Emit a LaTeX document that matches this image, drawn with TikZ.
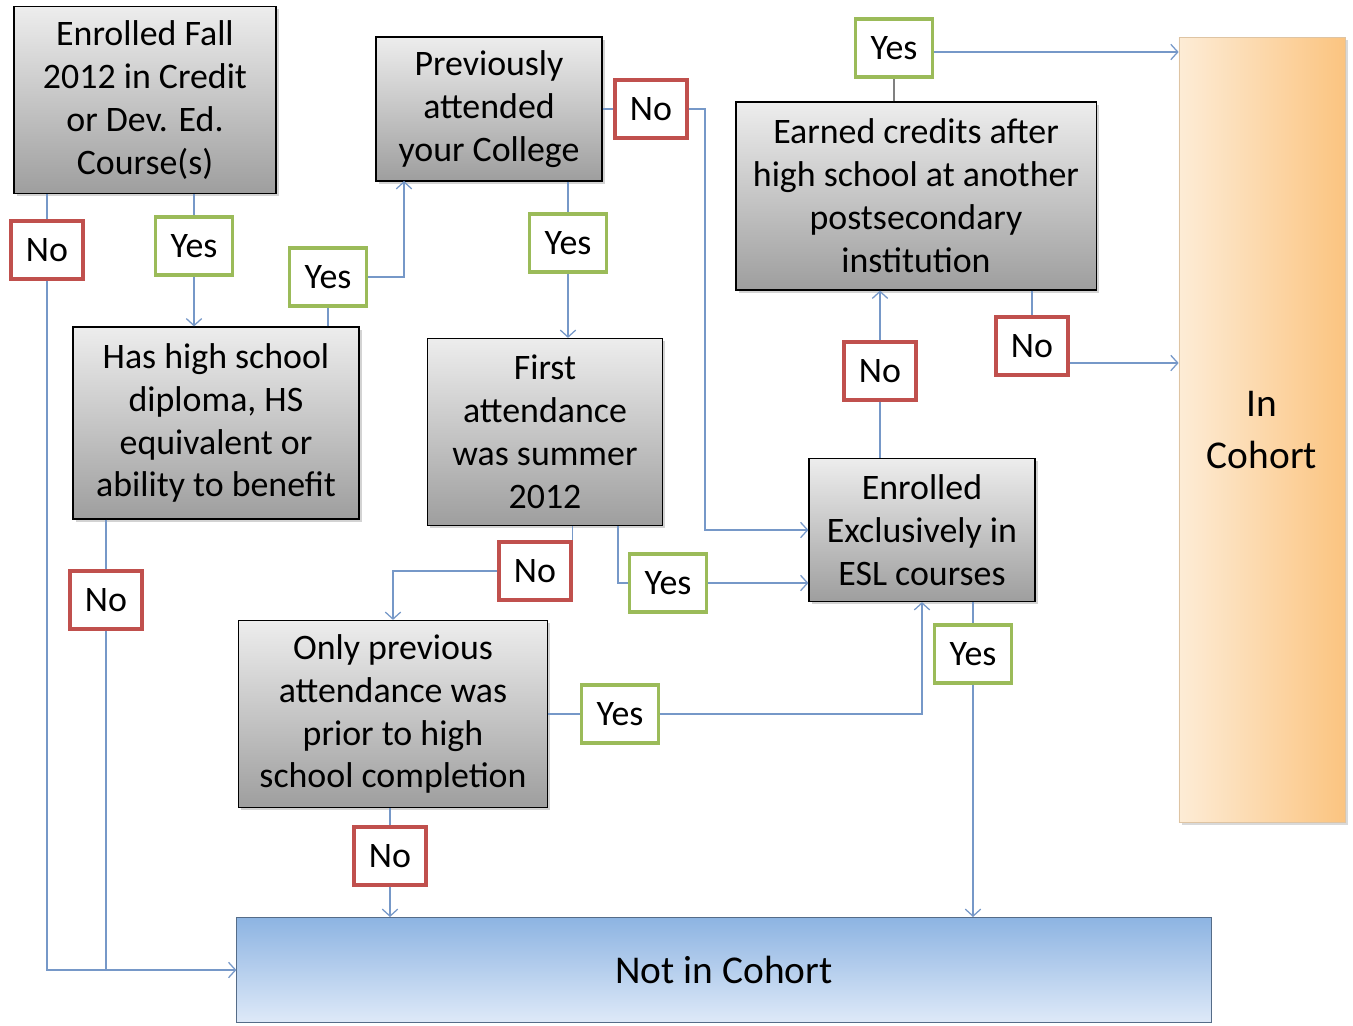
\documentclass[tikz,border=0pt]{standalone}
\usepackage{fontspec}
\setmainfont{Carlito}
\usetikzlibrary{arrows.meta,shadows}

\definecolor{FlowColor}{RGB}{118,152,200}
\definecolor{NoColor}{RGB}{192,80,77}
\definecolor{YesColor}{RGB}{155,187,89}
\definecolor{CohortLight}{RGB}{253,236,214}
\definecolor{CohortDark}{RGB}{251,196,128}
\definecolor{OutTop}{RGB}{141,180,226}
\definecolor{OutBottom}{RGB}{222,233,248}

\tikzstyle{ts-box-base}=[rectangle,
                             draw=black,
                             line width=0.8pt,
                             align=center,
                             font=\fontsize{25.5}{30.5}\selectfont,
                            ]
\tikzstyle{decision}=[ts-box-base,
                                  top color=white!93!black,
                                  bottom color=white!62!black,
                                  drop shadow={shadow xshift=2pt, shadow yshift=-2pt, opacity=0.35}]
\tikzstyle{answer-base}=[ts-box-base, fill=white, line width=2.2pt,
                             minimum height=1.45cm, inner sep=2pt]
\tikzstyle{answer-no}=[answer-base, draw=NoColor, minimum width=1.8cm]
\tikzstyle{answer-yes}=[answer-base, draw=YesColor, minimum width=1.93cm]
\tikzstyle{flow}=[draw=FlowColor, line width=0.9pt]
\tikzstyle{flow-arrow}=[flow, -{Straight Barb[length=5pt,width=11pt]}]

\begin{document}
\begin{tikzpicture}[x=0.025cm, y=-0.025cm]
\useasboundingbox (0,0) rectangle (1353,1025);

% decisions
\node at (145, 100) (check_enrolled) [decision, minimum width=6.55cm, minimum height=4.675cm] {Enrolled Fall\\2012 in Credit\\or Dev. Ed.\\Course(s)};
\node at (489, 109) (check_previous) [decision, minimum width=5.65cm, minimum height=3.6cm] {Previously\\attended\\your College};
\node at (916, 196) (check_earned)   [decision, minimum width=9.0cm, minimum height=4.7cm] {Earned credits after\\high school at another\\postsecondary\\institution};
\node at (216, 423) (check_diploma)  [decision, minimum width=7.15cm, minimum height=4.8cm] {Has high school\\diploma, HS\\equivalent or\\ability to benefit};
\node at (545, 432) (check_summer)   [decision, minimum width=5.875cm, minimum height=4.675cm] {First\\attendance\\was summer\\2012};
\node at (922, 530) (check_esl)      [decision, minimum width=5.65cm, minimum height=3.575cm] {Enrolled\\Exclusively in\\ESL courses};
\node at (393, 714) (check_prior)    [decision, minimum width=7.725cm, minimum height=4.675cm] {Only previous\\attendance was\\prior to high\\school completion};

% outcomes
\node at (1262, 430) (in_cohort) [ts-box-base, draw=CohortDark!80!black!60, line width=0.5pt,
      left color=CohortLight, right color=CohortDark, minimum width=4.15cm, minimum height=19.625cm,
      drop shadow={shadow xshift=2pt, shadow yshift=-2pt, opacity=0.3},
      font=\fontsize{28}{37}\selectfont] {In\\Cohort};
\node at (724, 970) (not_cohort) [ts-box-base, draw=OutTop!60!black, line width=0.7pt,
      top color=OutTop, bottom color=OutBottom, minimum width=24.35cm, minimum height=2.625cm,
      font=\fontsize{28}{32}\selectfont] {Not in Cohort};

% answers
\node at (47, 250)  (no_enrolled)  [answer-no]  {No};
\node at (194, 246) (yes_enrolled) [answer-yes] {Yes};
\node at (328, 277) (yes_diploma)  [answer-yes] {Yes};
\node at (651, 109) (no_previous)  [answer-no]  {No};
\node at (568, 243) (yes_previous) [answer-yes] {Yes};
\node at (894, 48)  (yes_earned)   [answer-yes] {Yes};
\node at (880, 371) (no_esl)       [answer-no]  {No};
\node at (1032, 346) (no_earned)   [answer-no]  {No};
\node at (106, 600) (no_diploma)   [answer-no]  {No};
\node at (535, 571) (no_summer)    [answer-no]  {No};
\node at (668, 583) (yes_summer)   [answer-yes] {Yes};
\node at (620, 714) (yes_prior)    [answer-yes] {Yes};
\node at (973, 654) (yes_esl)      [answer-yes] {Yes};
\node at (390, 856) (no_prior)     [answer-no]  {No};

\coordinate (turn_previous) at (404, 181);
\coordinate (turn_esl) at (705, 530);

\draw[flow] (check_enrolled.south -| no_enrolled) -- (no_enrolled.north);
\draw[flow-arrow] (no_enrolled.south) |- (not_cohort.west);
\draw[flow] (check_enrolled.south -| yes_enrolled) -- (yes_enrolled.north);
\draw[flow-arrow] (yes_enrolled.south) -- (yes_enrolled.south |- check_diploma.north);
\draw[flow] (check_diploma.north -| yes_diploma) -- (yes_diploma.south);
\draw[flow-arrow] (yes_diploma.east) -| (turn_previous);
\draw[flow] (check_diploma.south -| no_diploma) -- (no_diploma.north);
\draw[flow] (no_diploma.south) -- (no_diploma.south |- not_cohort.west);
\draw[flow] (check_previous.east) -- (no_previous.west);
\draw[flow-arrow] (no_previous.east) -| (turn_esl) -- (check_esl.west);
\draw[flow] (check_previous.south -| yes_previous) -- (yes_previous.north);
\draw[flow-arrow] (yes_previous.south) -- (yes_previous.south |- check_summer.north);
\draw[flow] (check_summer.south -| no_summer.north east) -- (no_summer.north east);
\draw[flow] ([xshift=-1.125cm]check_summer.south east) |- (yes_summer.west);
\draw[flow-arrow] (no_summer.west) -| (check_prior.north);
\draw[flow-arrow] (yes_summer.east) -- (yes_summer.east -| check_esl.west);
\draw[flow] (check_prior.east) -- (yes_prior.west);
\draw[flow-arrow] (yes_prior.east) -| (check_esl.south);
\draw[flow] (check_prior.south -| no_prior) -- (no_prior.north);
\draw[flow-arrow] (no_prior.south) -- (no_prior.south |- not_cohort.north);
\draw[flow] (check_esl.north -| no_esl) -- (no_esl.south);
\draw[flow-arrow] (no_esl.north) -- (no_esl.north |- check_earned.south);
\draw[flow] (check_esl.south -| yes_esl) -- (yes_esl.north);
\draw[flow-arrow] (yes_esl.south) -- (yes_esl.south |- not_cohort.north);
\draw[flow, draw=gray] (check_earned.north -| yes_earned) -- (yes_earned.south);
\draw[flow-arrow] ([yshift=-0.1cm]yes_earned.east) -- ([yshift=-0.1cm]yes_earned.east -| in_cohort.west);
\draw[flow] (check_earned.south -| no_earned) -- (no_earned.north);
\draw[flow-arrow] ([yshift=-0.425cm]no_earned.east) -- ([yshift=-0.425cm]no_earned.east -| in_cohort.west);
\end{tikzpicture}
\end{document}
